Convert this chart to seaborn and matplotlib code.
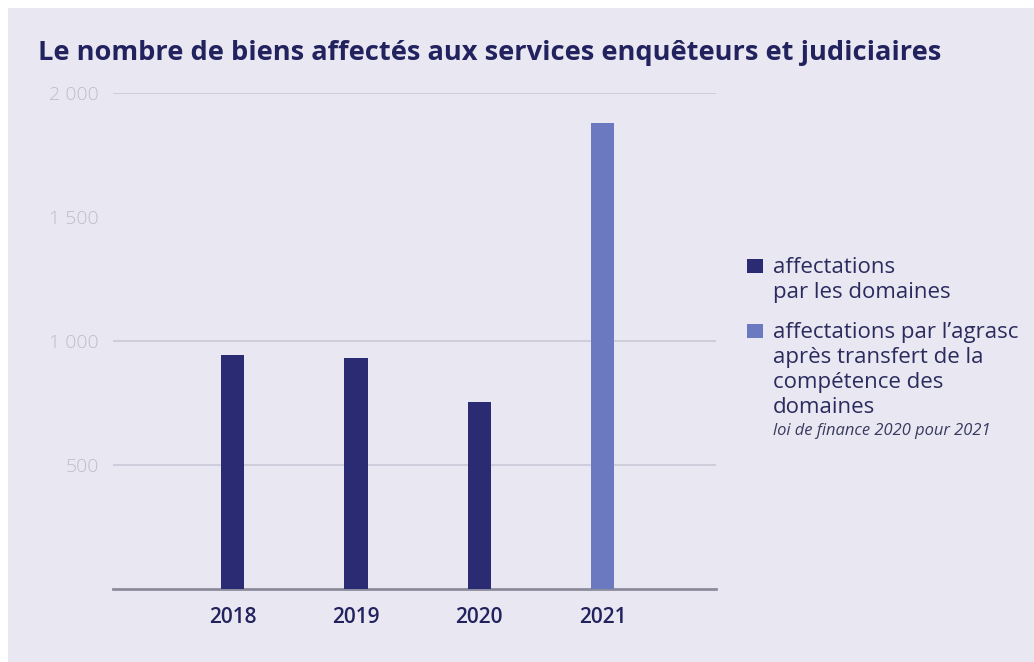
import numpy as np
import pandas as pd
import seaborn as sns
import matplotlib.pyplot as plt
from matplotlib.patches import Rectangle
from matplotlib.ticker import FuncFormatter

sns.set_theme(style="white")
plt.rcParams['font.family'] = ['Open Sans', 'DejaVu Sans']

years = ["2018", "2019", "2020", "2021"]
values = [945, 930, 755, 1880]
source = ["affectations\npar les domaines"] * 3 + \
         ["affectations par l\u2019agrasc\naprès transfert de la\ncompétence des\ndomaines"]
colors = ["#2b2b73", "#6a79c0"]
title = "Le nombre de biens affectés aux services enquêteurs et judiciaires"
note = "loi de finance 2020 pour 2021"

bg = "#e9e8f2"
navy = "#22225e"
W, H = 1034, 662

df = pd.DataFrame({"year": years, "value": values, "source": source})

fig = plt.figure(figsize=(W / 100, H / 100), dpi=100)
fig.patch.set_facecolor("white")
fig.patches.append(Rectangle((8 / W, 0), 1, 1 - 8 / H, transform=fig.transFigure,
                             facecolor=bg, edgecolor="none", zorder=-10))

ax = fig.add_axes([113 / W, 73 / H, 603 / W, 496 / H])
ax.set_facecolor(bg)
sns.barplot(data=df, x="year", y="value", hue="source", palette=colors,
            dodge=False, width=0.19, saturation=1, linewidth=0, ax=ax, zorder=3)
ax.get_legend().remove()

ax.set_xlim(-0.97, 3.92)
ax.set_ylim(0, 2000)
ax.set_yticks([500, 1000, 1500, 2000])
ax.yaxis.set_major_formatter(FuncFormatter(lambda v, p: f"{int(v):,}".replace(",", " ")))
ax.yaxis.grid(True, color="#c9c8d8", linewidth=1.2)
ax.get_ygridlines()[2].set_visible(False)
ax.set_axisbelow(True)

for s in ["top", "right", "left"]:
    ax.spines[s].set_visible(False)
ax.spines["bottom"].set_color("#8c8b9c")
ax.spines["bottom"].set_linewidth(2)

ax.tick_params(axis="y", length=0, pad=10, labelsize=14, labelcolor="#bdbccb")
ax.tick_params(axis="x", length=0, pad=13, labelsize=15, labelcolor=navy)
for lbl in ax.get_yticklabels():
    lbl.set_fontweight("light")
for lbl in ax.get_xticklabels():
    lbl.set_fontweight("semibold")
ax.set_xlabel("")
ax.set_ylabel("")

# legend drawn by hand so the squares sit on the first line of each entry
labels = list(dict.fromkeys(source))
tops = [257, 322]
for lab, col, top in zip(labels, colors, tops):
    fig.patches.append(Rectangle((747 / W, 1 - (top + 16) / H), 16 / W, 14 / H,
                                 transform=fig.transFigure, facecolor=col,
                                 edgecolor="none"))
    fig.text(773 / W, 1 - top / H, lab, fontsize=16, color="#2b2b5e",
             va="top", ha="left", linespacing=1.25)

fig.text(38 / W, 1 - 53 / H, title, fontsize=19.6, fontweight="bold",
         color=navy, va="center", ha="left")
fig.text(773 / W, 1 - 431 / H, note, fontsize=11.9, style="italic",
         color="#3a3a60", va="center", ha="left")

fig.savefig("out.png", dpi=100, facecolor=fig.get_facecolor())
